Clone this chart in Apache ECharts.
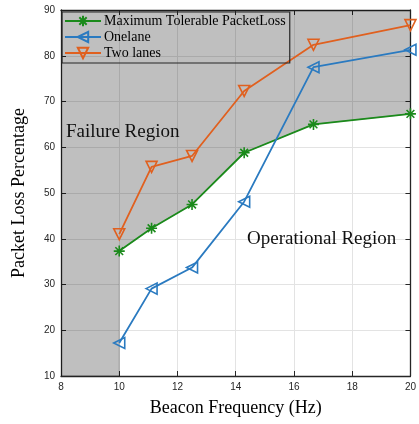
<!DOCTYPE html>
<html>
<head>
<meta charset="utf-8">
<script src="https://cdn.jsdelivr.net/npm/echarts@6/dist/echarts.min.js"></script>
<style>html,body{margin:0;padding:0;background:#fff}#c{width:419px;height:424px}</style>
</head>
<body>
<div id="c"></div>
<script>
const freq = [10, 11.11, 12.5, 14.29, 16.67, 20];
const maxTolerable = [37.3, 42.3, 47.5, 58.8, 65.0, 67.3];
const oneLane = [17.2, 29.1, 33.7, 48.1, 77.5, 81.3];
const twoLanes = [41.0, 55.7, 58.1, 72.3, 82.4, 86.7];
const xTicks = [8, 10, 12, 14, 16, 18, 20];
const yTicks = [10, 20, 30, 40, 50, 60, 70, 80, 90];
const xMin = 8, xMax = 20, yMin = 10, yMax = 90;

const green = '#1b8a1b', blue = '#2a7ac0', orange = '#e0601f';
const pair = arr => freq.map((f, i) => [f, arr[i]]);
const failureEdge = [[xMin, yMin], [freq[0], yMin]].concat(pair(maxTolerable));

const asterisk = 'path://M0,-10L0,10M-10,0L10,0M-7.07,-7.07L7.07,7.07M-7.07,7.07L7.07,-7.07';
const serif = 'Liberation Serif';
const axisCol = '#262626';

const chart = echarts.init(document.getElementById('c'), null, {renderer: 'canvas'});
const baseX = {
  type: 'value', min: xMin, max: xMax, interval: 2,
  axisLine: {show: true, onZero: false, lineStyle: {color: axisCol, width: 1.3}},
  axisTick: {show: true, inside: true, length: 5, lineStyle: {color: axisCol}},
  splitLine: {show: false}
};
const baseY = {
  type: 'value', min: yMin, max: yMax, interval: 10,
  axisLine: {show: true, onZero: false, lineStyle: {color: axisCol, width: 1.3}},
  axisTick: {show: true, inside: true, length: 5, lineStyle: {color: axisCol}},
  splitLine: {show: false}
};
chart.setOption({
  animation: false,
  grid: {left: 61, right: 8, top: 10, bottom: 48},
  xAxis: [
    Object.assign({}, baseX, {
      position: 'bottom',
      name: 'Beacon Frequency (Hz)', nameLocation: 'middle', nameGap: 23,
      nameTextStyle: {fontFamily: serif, fontSize: 18, color: '#000'},
      axisLabel: {color: axisCol, fontFamily: 'Liberation Sans', fontSize: 10, margin: 6},
      splitLine: {show: true, lineStyle: {color: '#e3e3e3', width: 1}}
    }),
    Object.assign({}, baseX, {position: 'top', axisLabel: {show: false}})
  ],
  yAxis: [
    Object.assign({}, baseY, {
      position: 'left',
      name: 'Packet Loss Percentage', nameLocation: 'middle', nameGap: 33,
      nameTextStyle: {fontFamily: serif, fontSize: 18, color: '#000'},
      axisLabel: {color: axisCol, fontFamily: 'Liberation Sans', fontSize: 10, margin: 6},
      splitLine: {show: true, lineStyle: {color: '#e3e3e3', width: 1}}
    }),
    Object.assign({}, baseY, {position: 'right', axisLabel: {show: false}})
  ],
  legend: {
    left: 62, top: 12, orient: 'vertical',
    padding: [2, 4, 3, 2], itemGap: 2, itemWidth: 36, itemHeight: 13,
    backgroundColor: 'rgba(0,0,0,0)', borderColor: axisCol, borderWidth: 1.2, borderRadius: 0,
    textStyle: {fontFamily: serif, fontSize: 14, color: '#000', padding: [0, 0, 0, -2]},
    data: ['Maximum Tolerable PacketLoss', 'Onelane', 'Two lanes']
  },
  graphic: [
    {type: 'text', left: 66, top: 123, style: {text: 'Failure Region', font: '19px "Liberation Serif"', fill: '#111'}, z: 100},
    {type: 'text', left: 247, top: 230, style: {text: 'Operational Region', font: '19px "Liberation Serif"', fill: '#111'}, z: 100}
  ],
  series: [
    {
      name: 'failure', type: 'line', data: failureEdge, symbol: 'none', silent: true,
      lineStyle: {width: 0.8, color: 'rgba(0,0,0,0.3)'},
      areaStyle: {origin: 'end', color: 'rgba(0,0,0,0.25)', opacity: 1}, z: 1
    },
    {
      name: 'Maximum Tolerable PacketLoss', type: 'line', data: pair(maxTolerable),
      symbol: asterisk, symbolSize: 11,
      lineStyle: {color: green, width: 1.8},
      itemStyle: {color: green, borderColor: green, borderWidth: 1.6}, z: 3
    },
    {
      name: 'Onelane', type: 'line', data: pair(oneLane),
      symbol: 'triangle', symbolRotate: 90, symbolSize: 11,
      lineStyle: {color: blue, width: 1.8},
      itemStyle: {color: 'rgba(0,0,0,0)', borderColor: blue, borderWidth: 1.6}, z: 3
    },
    {
      name: 'Two lanes', type: 'line', data: pair(twoLanes),
      symbol: 'triangle', symbolRotate: 180, symbolSize: 11,
      lineStyle: {color: orange, width: 1.8},
      itemStyle: {color: 'rgba(0,0,0,0)', borderColor: orange, borderWidth: 1.6}, z: 3
    }
  ]
});
</script>
</body>
</html>
